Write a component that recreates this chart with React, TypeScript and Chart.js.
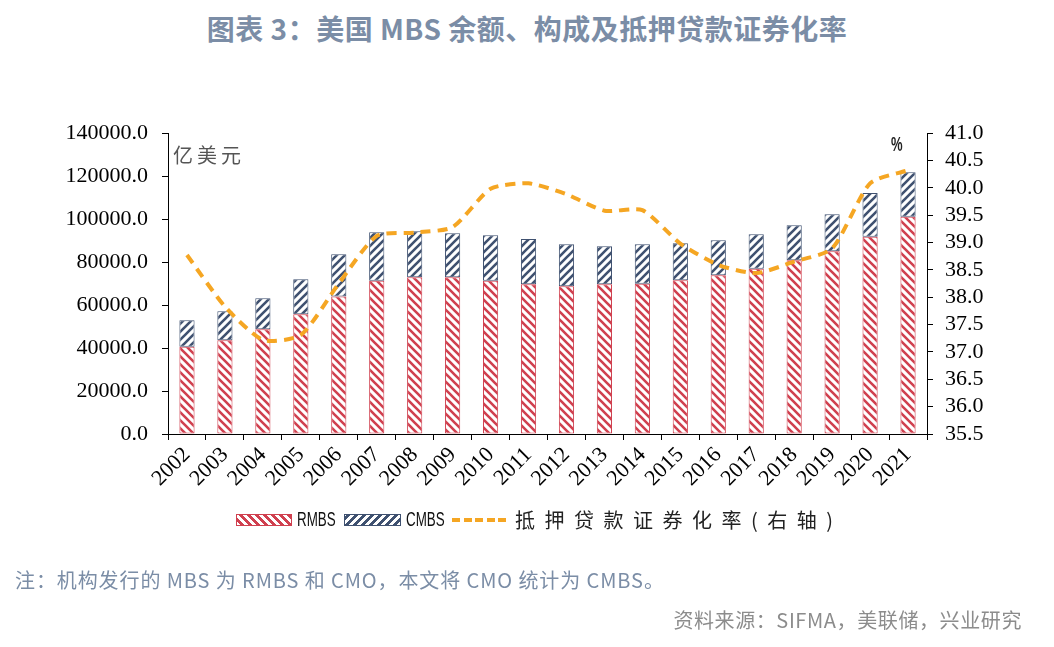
import React, { useEffect, useRef } from "react";
import { Chart, registerables } from "chart.js";

Chart.register(...registerables);

const years = ["2002","2003","2004","2005","2006","2007","2008","2009","2010","2011","2012","2013","2014","2015","2016","2017","2018","2019","2020","2021"];
const rmbs = [40600, 43600, 48700, 55700, 64000, 71300, 72900, 72900, 71300, 69600, 68700, 69600, 69900, 71500, 73800, 76900, 80800, 85000, 91800, 101100];
const totals = [52900, 57100, 63100, 72000, 83600, 93800, 94300, 93400, 92400, 90700, 88200, 87300, 88200, 88700, 90100, 92900, 97100, 102200, 112100, 121700];
const cmbs = totals.map((t, i) => t - rmbs[i]);
const rate = [38.77, 37.83, 37.22, 37.31, 38.25, 39.12, 39.18, 39.28, 39.98, 40.08, 39.88, 39.58, 39.59, 38.98, 38.59, 38.44, 38.65, 38.89, 40.08, 40.32];

const RED = "#D0404F";
const BLUE = "#3F5170";
const ORANGE = "#F5A623";
const TITLE_COLOR = "#7B8DA6";

function makePattern(color: string, back: boolean) {
  const c = document.createElement("canvas");
  const s = 8;
  c.width = s;
  c.height = s;
  const ctx = c.getContext("2d")!;
  ctx.fillStyle = "#ffffff";
  ctx.fillRect(0, 0, s, s);
  ctx.strokeStyle = color;
  ctx.lineWidth = 2.6;
  ctx.lineCap = "square";
  ctx.beginPath();
  if (back) {
    for (let k = -1; k <= 1; k++) {
      ctx.moveTo(k * s - 1, -1);
      ctx.lineTo(k * s + s + 1, s + 1);
    }
  } else {
    for (let k = -1; k <= 1; k++) {
      ctx.moveTo(k * s - 1, s + 1);
      ctx.lineTo(k * s + s + 1, -1);
    }
  }
  ctx.stroke();
  return ctx.createPattern(c, "repeat")!;
}

export default function App() {
  const ref = useRef<HTMLCanvasElement | null>(null);

  useEffect(() => {
    const canvas = ref.current!;
    const ctx = canvas.getContext("2d")!;
    const redPat = makePattern(RED, true);
    const bluePat = makePattern(BLUE, false);
    const serif = "'Liberation Serif', 'Times New Roman', serif";
    const chart = new Chart(ctx, {
      type: "bar",
      data: {
        labels: years,
        datasets: [
          {
            type: "line",
            label: "抵押贷款证券化率(右轴)",
            data: rate,
            yAxisID: "y1",
            borderColor: ORANGE,
            backgroundColor: ORANGE,
            borderWidth: 4,
            borderDash: [10, 7],
            tension: 0.22,
            pointRadius: 0,
            fill: false,
            order: 0,
          } as any,
          {
            type: "bar",
            label: "RMBS",
            data: rmbs,
            yAxisID: "y",
            backgroundColor: redPat,
            borderColor: RED,
            borderWidth: 1,
            borderSkipped: false,
            barPercentage: 0.8,
            categoryPercentage: 0.5,
            stack: "s",
            order: 1,
          },
          {
            type: "bar",
            label: "CMBS",
            data: cmbs,
            yAxisID: "y",
            backgroundColor: bluePat,
            borderColor: BLUE,
            borderWidth: 1,
            borderSkipped: false,
            barPercentage: 0.8,
            categoryPercentage: 0.5,
            stack: "s",
            order: 2,
          },
        ],
      },
      options: {
        responsive: false,
        animation: false,
        layout: { padding: { top: 133, left: 0, right: 0, bottom: 0 } },
        plugins: { legend: { display: false }, tooltip: { enabled: false } },
        scales: {
          x: {
            stacked: true,
            grid: { display: true, drawOnChartArea: false, drawTicks: true, tickLength: 6, color: "#000", offset: true },
            border: { display: true, color: "#000", width: 1 },
            ticks: {
              autoSkip: false,
              minRotation: 45,
              maxRotation: 45,
              color: "#000",
              padding: 2,
              font: { family: serif, size: 22 },
            },
            afterFit: (s: any) => { s.height = 213; },
          },
          y: {
            position: "left",
            stacked: true,
            min: 0,
            max: 140000,
            grid: { display: true, drawOnChartArea: false, drawTicks: true, tickLength: 6, color: "#000" },
            border: { display: true, color: "#000", width: 1 },
            ticks: {
              stepSize: 20000,
              autoSkip: false,
              color: "#000",
              padding: 14,
              font: { family: serif, size: 22 },
              callback: (v: any) => Number(v).toFixed(1),
            },
            afterFit: (s: any) => { s.width = 168; },
          },
          y1: {
            position: "right",
            min: 35.5,
            max: 41,
            grid: { display: true, drawOnChartArea: false, drawTicks: true, tickLength: 6, color: "#000" },
            border: { display: true, color: "#000", width: 1 },
            ticks: {
              stepSize: 0.5,
              autoSkip: false,
              color: "#000",
              padding: 12,
              font: { family: serif, size: 22 },
              callback: (v: any) => Number(v).toFixed(1),
            },
            afterFit: (s: any) => { s.width = 127; },
          },
        },
      },
    });
    return () => chart.destroy();
  }, []);

  const cjk = "'Noto Sans CJK SC', 'Noto Sans', sans-serif";
  const narrow = "'Liberation Sans Narrow', 'Liberation Sans', sans-serif";
  const abs = (l: number, t: number): React.CSSProperties => ({ position: "absolute", left: l, top: t, whiteSpace: "nowrap" });

  return (
    <div style={{ position: "absolute", left: 0, top: 0, width: 1054, height: 647, background: "#fff", overflow: "hidden" }}>
      <div style={{ position: "absolute", left: 0, top: 7, width: 1054, textAlign: "center", fontFamily: cjk, fontWeight: 700, fontSize: 28, color: TITLE_COLOR, lineHeight: "42px", letterSpacing: 0.5 }}>
        图表 3：美国 MBS 余额、构成及抵押贷款证券化率
      </div>
      <canvas ref={ref} width={1054} height={647} style={{ position: "absolute", left: 0, top: 0, width: 1054, height: 647 }} />
      <div style={{ ...abs(173, 140), fontFamily: cjk, fontSize: 20, color: "#555", letterSpacing: 4, lineHeight: "30px" }}>亿美元</div>
      <div style={{ ...abs(891, 132), fontFamily: narrow, fontSize: 21, fontWeight: 700, color: "#222", lineHeight: "24px", transform: "scaleX(0.62)", transformOrigin: "left center" }}>%</div>

      <div style={{ ...abs(236, 514), width: 54, height: 10, border: `1px solid ${RED}`, background: `repeating-linear-gradient(45deg, #fff 0 2.8px, ${RED} 2.8px 5.6px)` }} />
      <div style={{ ...abs(297, 507), fontFamily: narrow, fontSize: 20, color: "#111", lineHeight: "24px", transform: "scaleX(0.67)", transformOrigin: "left center" }}>RMBS</div>
      <div style={{ ...abs(344, 514), width: 55, height: 10, border: `1px solid ${BLUE}`, background: `repeating-linear-gradient(-45deg, #fff 0 2.8px, ${BLUE} 2.8px 5.6px)` }} />
      <div style={{ ...abs(406, 507), fontFamily: narrow, fontSize: 20, color: "#111", lineHeight: "24px", transform: "scaleX(0.67)", transformOrigin: "left center" }}>CMBS</div>
      <div style={{ ...abs(452, 518), width: 55, height: 4, background: `repeating-linear-gradient(90deg, ${ORANGE} 0 8px, transparent 8px 11.5px)` }} />
      <div style={{ ...abs(515, 506), fontFamily: cjk, fontSize: 20, color: "#222", letterSpacing: 9.5, lineHeight: "28px" }}>抵押贷款证券化率(右轴)</div>

      <div style={{ ...abs(15, 566), fontFamily: cjk, fontSize: 20, color: TITLE_COLOR, lineHeight: "28px", letterSpacing: 0.9 }}>
        注：机构发行的 MBS 为 RMBS 和 CMO，本文将 CMO 统计为 CMBS。
      </div>
      <div style={{ position: "absolute", right: 32, top: 606, whiteSpace: "nowrap", fontFamily: cjk, fontSize: 20, color: "#8C8C8C", lineHeight: "28px", letterSpacing: 0.6 }}>
        资料来源：SIFMA，美联储，兴业研究
      </div>
    </div>
  );
}
